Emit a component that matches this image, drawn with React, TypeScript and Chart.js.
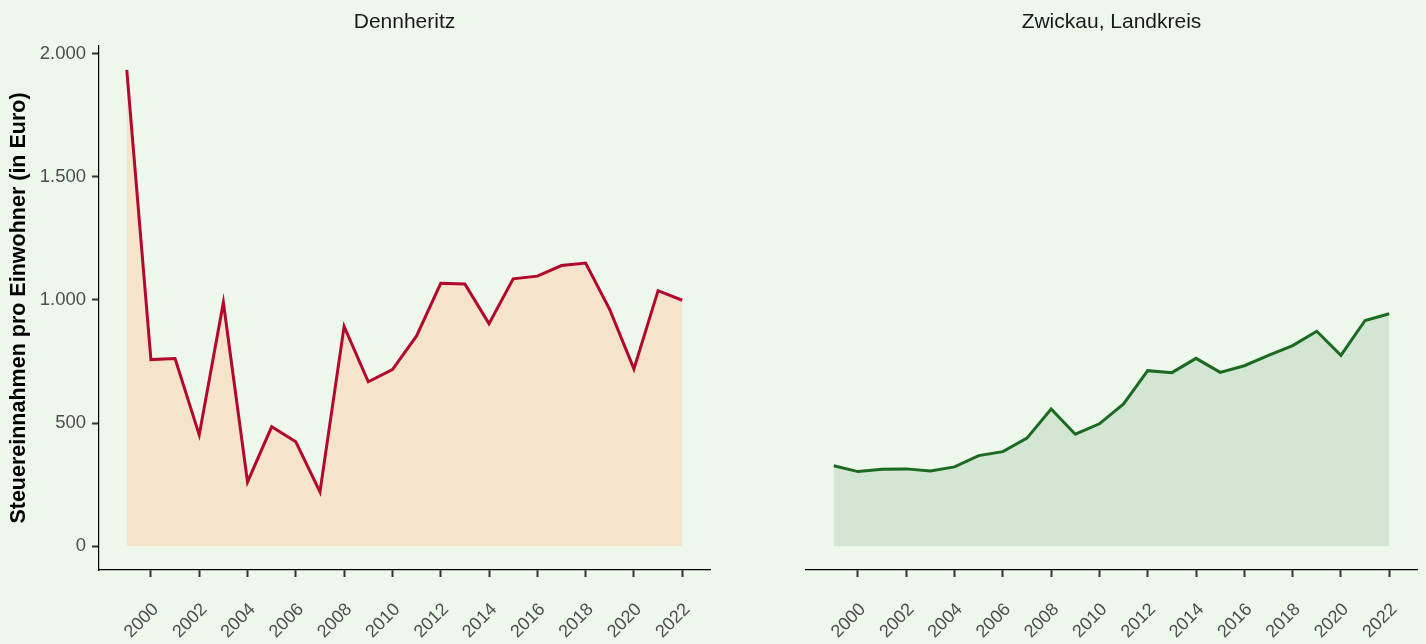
import React, { useEffect, useRef } from 'react';
import { Chart, registerables } from 'chart.js';

Chart.register(...registerables);

// ---- Data ----
const years = [1999, 2000, 2001, 2002, 2003, 2004, 2005, 2006, 2007, 2008, 2009, 2010, 2011, 2012, 2013, 2014, 2015, 2016, 2017, 2018, 2019, 2020, 2021, 2022];
const dennheritz = [1935, 758, 762, 452, 990, 261, 485, 424, 220, 893, 668, 717, 854, 1068, 1065, 904, 1086, 1097, 1140, 1150, 961, 720, 1038, 999];
const zwickau = [327, 303, 312, 314, 305, 322, 368, 384, 439, 557, 455, 497, 578, 713, 705, 763, 706, 733, 775, 815, 873, 775, 917, 944];
const xTickYears = [2000, 2002, 2004, 2006, 2008, 2010, 2012, 2014, 2016, 2018, 2020, 2022];
const yTickValues = [0, 500, 1000, 1500, 2000];
const panelTitles = ['Dennheritz', 'Zwickau, Landkreis'];
const yAxisTitle = 'Steuereinnahmen pro Einwohner (in Euro)';

const FONT = '"Liberation Sans", Arial, Helvetica, sans-serif';
const BG = '#EDF7EC';

const fmtDE = (v: number) => {
  if (v >= 1000) {
    const th = Math.floor(v / 1000);
    const rest = String(v % 1000).padStart(3, '0');
    return `${th}.${rest}`;
  }
  return String(v);
};

function makeConfig(title: string, values: number[], line: string, fill: string, showY: boolean, padL: number, padR: number): any {
  return {
    type: 'line',
    data: {
      datasets: [
        {
          data: years.map((y, i) => ({ x: y, y: values[i] })),
          borderColor: line,
          backgroundColor: fill,
          fill: 'origin',
          borderWidth: 3,
          pointRadius: 0,
          tension: 0,
          borderJoinStyle: 'miter',
        },
      ],
    },
    options: {
      responsive: false,
      animation: false,
      layout: { padding: { left: padL, right: padR, top: 0, bottom: 0 } },
      plugins: {
        legend: { display: false },
        tooltip: { enabled: false },
        title: {
          display: true,
          text: title,
          fullSize: false,
          align: 'center',
          color: '#1A1A1A',
          font: { family: FONT, size: 21, weight: 'normal' },
          padding: { top: 10, bottom: 10.8 },
        },
      },
      scales: {
        x: {
          type: 'linear',
          min: 1997.85,
          max: 2023.15,
          afterBuildTicks: (s: any) => {
            s.ticks = xTickYears.map((v) => ({ value: v }));
          },
          afterFit: (s: any) => {
            s.height = 74;
            s.paddingLeft = 0;
            s.paddingRight = 0;
          },
          ticks: {
            autoSkip: false,
            minRotation: 45,
            maxRotation: 45,
            color: '#4D4D4D',
            font: { family: FONT, size: 18 },
            padding: 22,
            labelOffset: 5,
            callback: (v: any) => String(v),
          },
          grid: {
            drawOnChartArea: false,
            drawTicks: true,
            tickLength: 7,
            tickWidth: 2,
            tickColor: '#333333',
          },
          border: { display: true, color: '#000000', width: 1.2 },
        },
        y: {
          type: 'linear',
          display: showY,
          min: -96.75,
          max: 2031.75,
          afterBuildTicks: (s: any) => {
            s.ticks = yTickValues.map((v) => ({ value: v }));
          },
          afterFit: (s: any) => {
            s.width = showY ? 99 : 0;
          },
          ticks: {
            color: '#4D4D4D',
            font: { family: FONT, size: 18.5 },
            padding: 6,
            callback: (v: any) => fmtDE(Number(v)),
          },
          grid: {
            drawOnChartArea: false,
            drawTicks: true,
            tickLength: 7,
            tickWidth: 2,
            tickColor: '#333333',
          },
          border: { display: true, color: '#000000', width: 1.2 },
          title: {
            display: true,
            text: yAxisTitle,
            color: '#000000',
            font: { family: FONT, size: 21.5, weight: 'bold' },
            padding: { top: 6, bottom: 0 },
          },
        },
      },
    },
  };
}

export default function App() {
  const leftRef = useRef<HTMLCanvasElement>(null);
  const rightRef = useRef<HTMLCanvasElement>(null);

  useEffect(() => {
    const c1 = new Chart(leftRef.current as HTMLCanvasElement, makeConfig(panelTitles[0], dennheritz, '#B3082E', '#F5E3CC', true, 0, 2));
    const c2 = new Chart(rightRef.current as HTMLCanvasElement, makeConfig(panelTitles[1], zwickau, '#1C6A22', '#D3E6D3', false, 6, 9));
    return () => {
      c1.destroy();
      c2.destroy();
    };
  }, []);

  return (
    <div style={{ position: 'fixed', left: 0, top: 0, width: 1426, height: 644, background: BG, overflow: 'hidden' }}>
      <canvas ref={leftRef} width={712} height={644} style={{ position: 'absolute', left: 0, top: 0, width: 712, height: 644 }} />
      <canvas ref={rightRef} width={626} height={644} style={{ position: 'absolute', left: 800, top: 0, width: 626, height: 644 }} />
    </div>
  );
}
